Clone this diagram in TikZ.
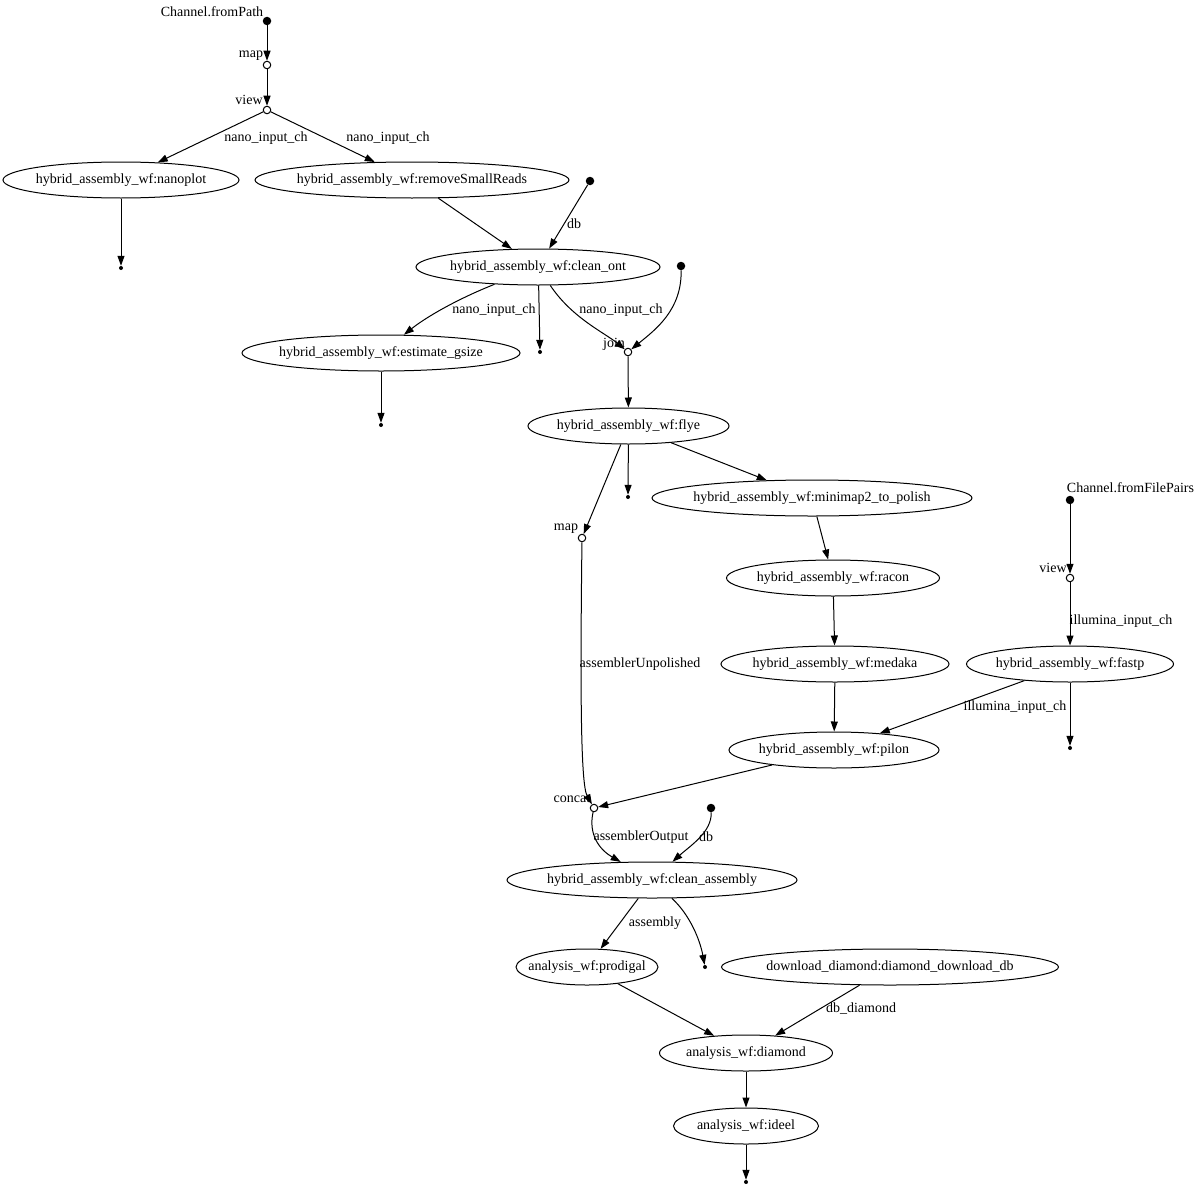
\documentclass[tikz,border=0pt]{standalone}
\usepackage{fontspec}
\setmainfont{Liberation Serif}
\usetikzlibrary{shapes.geometric,arrows.meta}
\begin{document}
\begin{tikzpicture}[x=1pt,y=-1pt,
  every node/.style={font=\fontsize{14}{16}\selectfont},
  proc/.style={draw, ellipse, inner sep=0pt, minimum height=36pt, line width=1pt},
  src/.style={circle, fill=black, inner sep=0pt, minimum size=8.5pt},
  sink/.style={circle, fill=black, inner sep=0pt, minimum size=4pt},
  op/.style={circle, draw, fill=white, inner sep=0pt, minimum size=7.5pt, line width=1pt},
  lbl/.style={inner sep=0pt},
  edge/.style={draw, line width=1pt, -{Triangle[length=10pt,width=7pt]}}
]
\useasboundingbox (0,0) rectangle (1198,1188);

% nodes
\node[src] (fp) at (267,21) {};
\node[op] (map1) at (267,65) {};
\node[op] (view1) at (267,110) {};
\node[proc, minimum width=236pt, label={[lbl]center:hybrid\_assembly\_wf:nanoplot}] (nano) at (121,180) {};
\node[proc, minimum width=314pt, label={[lbl]center:hybrid\_assembly\_wf:removeSmallReads}] (rsr) at (412,180) {};
\node[sink] (s1) at (121,268) {};
\node[src] (db1) at (590,181) {};
\node[proc, minimum width=244pt, label={[lbl]center:hybrid\_assembly\_wf:clean\_ont}] (co) at (538,267) {};
\node[src] (src2) at (681,266) {};
\node[proc, minimum width=278pt, label={[lbl]center:hybrid\_assembly\_wf:estimate\_gsize}] (eg) at (381,353) {};
\node[sink] (s2) at (540,352) {};
\node[op] (join) at (628,352) {};
\node[sink] (s3) at (381,425) {};
\node[proc, minimum width=201pt, label={[lbl]center:hybrid\_assembly\_wf:flye}] (flye) at (628.5,426) {};
\node[sink] (s4) at (628,497) {};
\node[proc, minimum width=320pt, label={[lbl]center:hybrid\_assembly\_wf:minimap2\_to\_polish}] (mm) at (812,498) {};
\node[op] (map2) at (582,538) {};
\node[proc, minimum width=213pt, label={[lbl]center:hybrid\_assembly\_wf:racon}] (racon) at (833,578) {};
\node[proc, minimum width=228pt, label={[lbl]center:hybrid\_assembly\_wf:medaka}] (medaka) at (835,664) {};
\node[src] (ffp) at (1070,500) {};
\node[op] (view2) at (1070,578) {};
\node[proc, minimum width=207pt, label={[lbl]center:hybrid\_assembly\_wf:fastp}] (fastp) at (1070,664) {};
\node[sink] (s5) at (1070,748) {};
\node[proc, minimum width=210pt, label={[lbl]center:hybrid\_assembly\_wf:pilon}] (pilon) at (834,750) {};
\node[op] (concat) at (594,808) {};
\node[src] (db2) at (711,808) {};
\node[proc, minimum width=290pt, label={[lbl]center:hybrid\_assembly\_wf:clean\_assembly}] (ca) at (652,880) {};
\node[proc, minimum width=142pt, label={[lbl]center:analysis\_wf:prodigal}] (prod) at (587,967) {};
\node[sink] (s6) at (705,967) {};
\node[proc, minimum width=337pt, label={[lbl]center:download\_diamond:diamond\_download\_db}] (dd) at (890,967) {};
\node[proc, minimum width=173pt, label={[lbl]center:analysis\_wf:diamond}] (dia) at (746,1053) {};
\node[proc, minimum width=145pt, label={[lbl]center:analysis\_wf:ideel}] (ideel) at (746,1126) {};
\node[sink] (s7) at (746,1182) {};

% node labels
\node[lbl] (tfp) at (212,12) {Channel.fromPath};
\node[lbl] (tmap1) at (251,56) {map};
\node[lbl] (tview1) at (249,100) {view};
\node[lbl] (tjoin) at (614,344) {join};
\node[lbl] (tmap2) at (566,529) {map};
\node[lbl] (tconcat) at (572,799) {concat};
\node[lbl] (tffp) at (1130.5,488) {Channel.fromFilePairs};
\node[lbl] (tview2) at (1053,568) {view};

% edge labels
\node[lbl] (l1) at (266,138) {nano\_input\_ch};
\node[lbl] (l2) at (388,138) {nano\_input\_ch};
\node[lbl] (l3) at (574,224) {db};
\node[lbl] (l4) at (494,310) {nano\_input\_ch};
\node[lbl] (l5) at (621,310) {nano\_input\_ch};
\node[lbl] (l6) at (640,664) {assemblerUnpolished};
\node[lbl] (l7) at (1121,621) {illumina\_input\_ch};
\node[lbl] (l8) at (1015,707) {illumina\_input\_ch};
\node[lbl] (l9) at (641,837) {assemblerOutput};
\node[lbl] (l10) at (706,837) {db};
\node[lbl] (l11) at (655,923) {assembly};
\node[lbl] (l12) at (861,1009) {db\_diamond};

% edges
\draw[edge] (fp) -- (map1);
\draw[edge] (map1) -- (view1);
\draw[edge] (view1) -- (nano);
\draw[edge] (view1) -- (rsr);
\draw[edge] (nano) -- (s1);
\draw[edge] (rsr) -- (co);
\draw[edge] (db1) -- (co);
\draw[edge] (co) .. controls (455,300) and (425,318) .. (eg);
\draw[edge] (co.-88) -- (s2);
\draw[edge] (co) .. controls (572,318) and (605,333) .. (join);
\draw[edge] (src2) .. controls (682,310) and (655,330) .. (join);
\draw[edge] (eg) -- (s3);
\draw[edge] (join) -- (flye);
\draw[edge] (flye) -- (map2);
\draw[edge] (flye) -- (s4);
\draw[edge] (flye) -- (mm);
\draw[edge] (mm) -- (racon);
\draw[edge] (racon) -- (medaka);
\draw[edge] (medaka) -- (pilon);
\draw[edge] (ffp) -- (view2);
\draw[edge] (view2) -- (fastp);
\draw[edge] (fastp) -- (s5);
\draw[edge] (fastp) -- (pilon);
\draw[edge] (map2) .. controls (580,700) and (581,785) .. (concat);
\draw[edge] (pilon) -- (concat);
\draw[edge] (concat) .. controls (588,835) and (600,850) .. (ca);
\draw[edge] (db2) .. controls (712,832) and (690,846) .. (ca);
\draw[edge] (ca) -- (prod);
\draw[edge] (ca) .. controls (690,915) and (700,940) .. (s6);
\draw[edge] (prod) -- (dia);
\draw[edge] (dd) -- (dia);
\draw[edge] (dia) -- (ideel);
\draw[edge] (ideel) -- (s7);
\end{tikzpicture}
\end{document}
